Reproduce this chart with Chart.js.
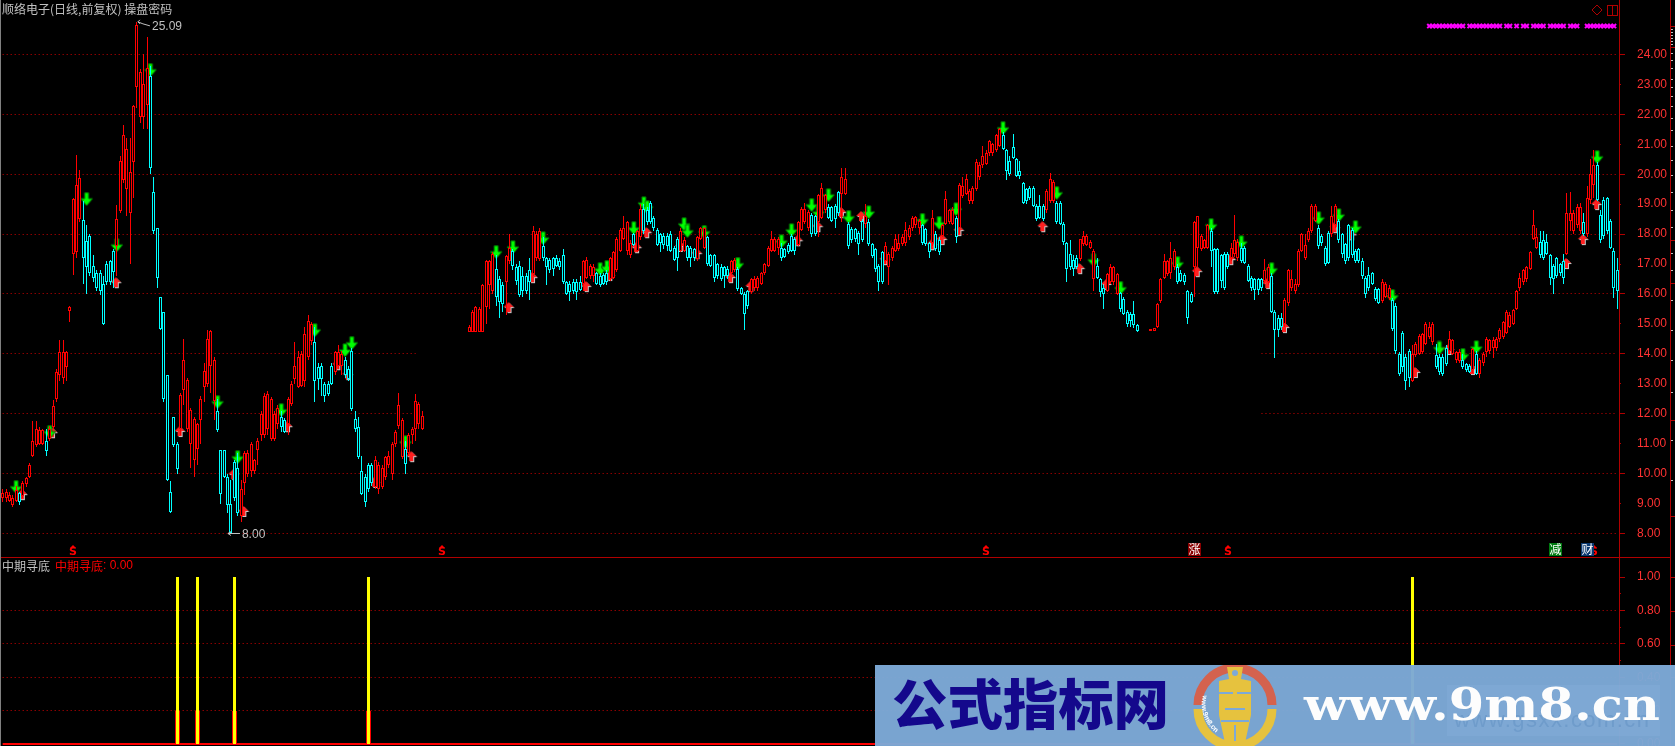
<!DOCTYPE html>
<html>
<head>
<meta charset="utf-8">
<title>中期寻底</title>
<style>
  html, body { margin: 0; padding: 0; background: #000; overflow: hidden; }
  body { width: 1675px; height: 746px; position: relative; }
  canvas { position: absolute; left: 0; display: block; }
  #leftEdge { position: absolute; left: 0; top: 0; width: 1px; height: 746px; background: #808080; }
  #outerAxis { position: absolute; left: 1670px; top: 0; width: 1px; height: 746px; background: #b00000; }
  #divider { position: absolute; left: 1px; top: 557px; width: 1670px; height: 1px; background: #b00000; }
  #banner { position: absolute; left: 875px; top: 665px; }
</style>
</head>
<body>
<canvas id="priceChart" width="1675" height="557" style="top:0"></canvas>
<canvas id="signalChart" width="1675" height="189" style="top:557px"></canvas>
<div id="leftEdge"></div>
<div id="outerAxis"></div>
<div id="divider"></div>
<svg id="banner" width="800" height="81" viewBox="0 0 800 81">
  <defs><path id="ringText" d="M 328 30 A 35 35 0 0 0 366 74"></path></defs>
  <rect width="800" height="81" fill="#7da9d7" fill-opacity="0.97"></rect>
  <rect x="572" y="20" width="213" height="51" fill="#8ab2dc" fill-opacity="0.35"></rect>
  <text x="579" y="62" font-family="Liberation Sans" font-size="22" fill="#6f9ccb" textLength="195">www.gsxx.com.cn</text>
  <text x="17" y="60" font-family="Noto Sans CJK SC" font-weight="900" font-size="54" fill="#14088c" textLength="277" lengthAdjust="spacingAndGlyphs">公式指标网</text>
  <path d="M 323 40 A 37 37 0 0 1 397 40" fill="none" stroke="#d4624e" stroke-width="9"></path>
  <path d="M 397 44 A 37 37 0 0 1 323 44" fill="none" stroke="#e6c23e" stroke-width="9"></path>
  <path d="M 352 2 L 368 2 L 366 14 L 376 16 L 376 50 L 370 78 L 350 78 L 344 50 L 344 16 L 354 14 Z" fill="#e6c23e"></path>
  <circle cx="360" cy="8" r="3" fill="#7da9d7"></circle>
  <path d="M 344 28 H 358 M 362 28 H 376 M 350 44 H 370 M 346 56 H 374 M 360 60 V 76" stroke="#7da9d7" stroke-width="2" fill="none"></path>
  <text font-family="Liberation Sans" font-size="7" font-weight="700" fill="#ffffff"><textPath href="#ringText">www.9m8.cn</textPath></text>
  <text x="429" y="55" font-family="DejaVu Serif" font-weight="700" font-size="45" fill="#fdfdfd" textLength="356" lengthAdjust="spacingAndGlyphs">www.9m8.cn</text>
</svg>

<script src="https://cdn.jsdelivr.net/npm/chart.js@4/dist/chart.umd.js"></script>
<script>
// every line holds 10 bars, first bar number in the comment
var bodyLow = [
  9.2,9.2,9.1,8.95,9.1,9.05,9.25,9.65,9.9,10.6, // 0
  10.95,11,11,10.75,11.15,11.55,12.5,13.3,13.2,13.55, // 10
  15.42,17.33,17.4,18.5,17.2,16.9,16.7,16.55,16.2,16.1, // 20
  15,16.4,16.4,16.75,17.6,18.78,19.8,19.5,18.72,20.42, // 30
  22.9,21.9,21.9,22.3,20.2,18.1,16.55,14.83,12.5,9.78, // 40
  8.72,10.94,10.17,11.5,12.78,11.5,11,10.44,10.83,11.78, // 50
  12.9,13,13.6,12.44,11.47,9.33,9.9,8.95,8,9.2, // 60
  8.7,8.6,9.7,10,10.1,10.1,10.8,11.28,11.28,11.5, // 70
  11.17,11.17,11.67,11.56,11.39,11.67,12.33,13.17,12.9,12.94, // 80
  13.1,13.9,14.44,13.1,13.17,13.17,12.6,12.67,13,13.4, // 90
  13.6,13.6,13.3,13.17,12.17,11.5,10.55,9.33,9.05,9.5, // 100
  9.7,9.55,9.5,9.55,9.9,10.28,10,11,11.6,10.55, // 110
  10.33,10.7,11.28,11.5,11.67,11.5,null,null,null,null, // 120
  null,null,null,null,null,null,null,null,null,14.74, // 130
  14.74,14.74,14.74,14.74,15.55,16.3,16.1,15.9,15.72,15.67, // 140
  16.4,17.1,16.95,16.45,15.95,16.1,16.1,16.4,16.67,17.2, // 150
  17.17,17.2,16.9,16.8,16.85,16.95,16.9,16.4,16,16.05, // 160
  16.1,16.05,16.15,16.35,16.55,16.6,16.6,16.35,16.3,16.35, // 170
  16.4,16.5,16.55,16.8,17.45,17.85,17.45,17.3,17.65,17.45, // 180
  17.9,18.1,18.4,18.4,18.2,17.65,17.7,17.65,17.6,17.45, // 190
  17.15,17.2,17.45,17.45,17.2,17.2,17.2,17.17,17.85,17.55, // 200
  17,16.95,16.55,16.6,16.5,16.6,16.6,16.7,16.8,16.17, // 210
  16,15.33,15.6,16.05,16.2,16.2,16.33,16.7,16.94,17.45, // 220
  17.45,17.55,17.2,17.25,17.4,17.45,17.45,17.65,18.15,18.4, // 230
  18.2,18,18,18.4,18.55,18.8,18.55,18.45,18.5,18.7, // 240
  19.33,19.35,17.6,17.8,17.85,17.67,17.8,18.33,17.67,17.28, // 250
  16.83,16.4,16.4,17.1,16.9,17.2,17.45,17.5,17.67,17.7, // 260
  17.9,18.2,18.3,18.2,17.7,17.67,17.4,17.7,17.5,17.4, // 270
  17.95,18.33,18.4,18.35,17.9,18.2,19.28,19.33,19.1,19.1, // 280
  19.5,19.9,20.3,20.35,20.7,20.7,20.8,20.95,20.85,20.1, // 290
  20,20.55,19.95,19.95,19.05,19.1,19.2,18.95,18.5,18.55, // 300
  18.5,18.8,19.1,19.1,18.4,18.33,17.72,16.83,16.9,16.85, // 310
  16.9,17.17,17.67,17.65,17.55,16.5,16.55,16.05,16,16.1, // 320
  16.4,16.4,16,15.5,15.33,15,15.1,14.95,14.78,null, // 330
  null,null,14.78,14.76,14.9,15.78,16.55,16.67,16.7,16.9, // 340
  16.4,16.45,16.4,15.2,15.73,16.9,17.55,17.5,17.55,17.55, // 350
  17.45,16.05,16.05,16.45,16.2,16.9,17.2,17.33,17.2,17.1, // 360
  17.05,16.45,16.2,16.15,16.15,16.2,16.45,16.4,15.4,14.8, // 370
  14.8,14.9,15,15.7,16.2,16.1,16.3,17.45,17.2,17.8, // 380
  18.1,18.45,17.6,17.7,17,17.05,18,18.3,17.8,17.33, // 390
  17.1,17.2,17.3,17.1,17.1,16.6,16,16.2,16.35,15.83, // 400
  15.7,15.78,15.9,15.85,14.83,14.1,13.33,13.55,13.1,13.2, // 410
  13.1,13.95,14,14.05,14.33,14.55,14.4,13.55,13.4,13.33, // 420
  13.67,14.1,14,13.78,13.75,13.55,13.45,13.4,13.45,13.33, // 430
  13.33,13.7,14.05,14.1,14.2,14.2,14.5,14.55,14.7,14.9, // 440
  15,15.5,16.2,16.4,16.5,16.85,17.85,17.55,17.3,17.2, // 450
  17.35,16.55,16.5,16.6,16.7,16.55,17.33,18.45,18.1,18.3, // 460
  18.1,18,18,19.15,19.65,19.15,17.8,17.95,18.1,17.55, // 470
  16.2,16.1 // 480
];
var bodyHigh = [
  9.35,9.4,9.3,9.2,9.45,9.35,9.7,9.85,10.3,11.1, // 0
  11.5,11.45,11.45,11.1,11.5,12.25,13.4,14.05,14.05,14.05, // 10
  15.58,19.17,19.63,19.87,18.48,17.78,17.95,16.95,16.7,16.7, // 20
  16.35,17,17.1,17.45,18.5,20.44,21.3,20.83,20.08,22.27, // 30
  25,23.4,23,23.55,23.27,19.4,18.2,15.9,15.39,13.28, // 40
  9.39,11.89,11,12.63,13.78,13.13,12.13,11.83,11.67,12.5, // 50
  13.44,14.5,14.78,13.78,12.08,10.78,10.78,9.9,9,10.4, // 60
  10.2,9.5,10.7,10.7,11,10.45,11.1,12,12.6,12.67, // 70
  12.5,12,12.2,11.9,11.78,12.5,13,13.6,13.9,14, // 80
  14.67,15.1,15,14.41,13.56,13.6,13,13,13.6,14.05, // 90
  14.05,14,13.78,13.5,14.1,11.83,11.55,10.1,9.9,10.3, // 100
  10.3,10.44,10.3,10.2,10.55,10.6,11,11.39,12.28,11.8, // 110
  10.83,11.3,11.5,12.44,12.33,11.94,null,null,null,null, // 120
  null,null,null,null,null,null,null,null,null,14.9, // 130
  15.4,15.55,15.5,16.3,17.1,17.1,17.35,16.83,16.5,16.3, // 140
  17.28,17.55,17.45,16.9,16.95,16.6,16.6,16.8,18.1,18, // 150
  18.1,17.6,17.2,17.15,17.2,17.2,17.1,17.3,16.4,16.35, // 160
  16.4,16.4,16.4,17.1,17.15,16.95,16.9,16.7,16.6,16.65, // 170
  16.7,17.2,17.4,17.85,18.15,18.2,18.4,17.7,18,18.1, // 180
  18.85,18.85,18.8,19.05,18.55,18.15,18,17.95,17.95,18, // 190
  17.55,17.85,18.1,17.8,17.6,17.55,17.5,17.9,18.2,18.2, // 200
  17.9,17.3,17.3,17,16.9,16.9,16.85,17.1,17.15,16.83, // 210
  16.2,16,16.1,16.5,16.5,16.55,16.7,17,17.55,17.83, // 220
  17.85,17.85,17.55,17.5,17.65,17.95,17.85,18.4,18.85,18.85, // 230
  18.75,18.65,18.6,19.3,19.55,19.3,18.9,18.9,18.95,19.4, // 240
  19.9,19.85,18.33,18.17,18.17,18.05,18.45,18.6,18.4,17.67, // 250
  17.5,16.95,17.4,17.6,17.33,17.55,17.85,17.7,17.9,18.15, // 260
  18.2,18.55,18.58,18.45,18.3,18.17,17.7,18.55,18,17.8, // 270
  18.3,19.17,18.8,18.8,18.55,19.65,19.6,19.83,19.45,19.55, // 280
  20.4,20.3,20.6,20.7,21.1,21,21.3,21.5,21.3,20.8, // 290
  20.45,20.9,20.5,20.1,19.7,19.5,19.55,19.55,18.95,18.95, // 300
  18.95,19.45,19.85,19.75,19.05,19.05,18.33,17.7,17.33,17.15, // 310
  17.2,17.83,17.95,17.95,17.72,17.45,16.95,16.5,16.2,16.67, // 320
  16.9,16.9,16.67,16.02,15.83,15.4,15.33,15.33,14.95,null, // 330
  null,null,14.83,14.85,15.67,16.5,17.1,17.1,17.2,17.45, // 340
  16.9,16.7,16.65,16.1,16,18.4,18.6,17.95,17.8,18.3, // 350
  18.1,17.5,17.5,17.3,17.35,17.35,17.55,17.8,17.75,17.55, // 360
  17.55,16.95,16.55,16.5,16.5,16.5,16.8,16.9,16.6,15.4, // 370
  15.2,15.2,15.8,16.8,16.5,16.35,17.45,18,17.65,18.1, // 380
  18.95,18.95,18.2,17.95,17.55,18.05,18.6,18.95,18.45,18, // 390
  17.67,18.3,18.15,17.45,17.5,17.1,16.55,16.65,16.7,16.17, // 400
  16.17,16.4,16.33,16.2,15.8,15.6,14,14.7,13.9,14.1, // 410
  14,14.33,14.6,14.65,15,14.9,15,13.95,13.9,13.9, // 420
  14.2,14.5,14.45,14.05,14.05,13.78,13.65,13.6,14.17,14, // 430
  13.8,14,14.5,14.45,14.45,14.5,14.8,15.05,15.4,15.3, // 440
  15.45,16.1,16.55,16.8,16.9,17.4,18.3,17.9,17.75,17.8, // 450
  17.75,17.3,16.95,17.2,17,17.1,18.7,18.7,18.7,18.9, // 460
  18.9,18.4,19.2,20,20.3,20.3,18.65,19.15,19.2,18.45, // 470
  17.45,16.8 // 480
];
var wickLow = [
  9.05,9.05,9.05,8.9,9.05,8.95,9.2,9.55,9.85,10.55, // 0
  10.9,10.95,10.95,10.6,11.1,11.5,12.4,13.1,13,13.1, // 10
  15.05,16.65,17.2,18.4,16.35,16,16.6,16.4,16.1,15.95, // 20
  14.95,16.3,16.3,16.2,16.6,18.7,19.7,18.6,17,19.2, // 30
  22.2,21.7,21.5,21.5,20,18,16.2,14.8,12.4,9.75, // 40
  8.7,10.9,10,11.3,12.3,11.4,10.2,9.9,10.3,11, // 50
  12.4,12.9,12.7,11.8,11.4,9,9.85,8.7,8,9.1, // 60
  8.6,8.4,9.3,9.9,9.9,10,10.3,11.1,11.2,11.3, // 70
  11.1,11.1,11.5,11.4,11.35,11.3,12.25,13,12.85,12.9, // 80
  12.9,13.8,14.3,12.4,12.8,12.6,12.4,12.6,12.95,13.3, // 90
  13.5,13.3,13.2,13.1,12.1,11.4,10.5,9.3,8.9,9.4, // 100
  9.6,9.5,9.33,9.5,9.8,10.2,9.8,10.9,11.5,10.5, // 110
  10,10.6,11,11.1,11.5,11.45,null,null,null,null, // 120
  null,null,null,null,null,null,null,null,null,14.74, // 130
  14.74,14.74,14.74,14.74,15,15.5,16,15.6,15.2,15.4, // 140
  15.3,17,16.8,16.3,15.9,15.9,16,15.8,16.6,17.1, // 150
  17.1,17.1,16.3,16.7,16.6,16.9,16.8,16.35,15.95,15.75, // 160
  16,15.8,16.1,16.1,16.5,16.5,16.4,16.3,16.25,16.3, // 170
  16.3,16.45,16.5,16.75,17.4,17.8,17.3,17.2,17.6,17.4, // 180
  17.8,18,18.3,18.35,18.1,17.6,17.4,17.5,17.45,17.4, // 190
  17.1,16.78,17.4,17.4,17.1,16.9,17.1,17.1,17.8,17.5, // 200
  16.95,16.9,16.4,16.5,16.45,16.2,16.5,16.65,16.75,16.1, // 210
  15.95,14.8,15.5,16,16.1,16.1,16.3,16.65,16.9,17.4, // 220
  17.4,17.3,17.1,17.2,17.35,17.4,17.3,17.6,18.1,18.35, // 230
  18.1,17.9,17.95,17.9,18.5,18.7,18.5,18.4,18.2,18.6, // 240
  18.4,19.3,17.5,17.7,17.75,17.3,17.75,18.2,17.6,17.2, // 250
  16.75,16.1,16.35,17,16.3,17.1,17.4,17.45,17.6,17.6, // 260
  17.8,18.1,18.2,18,17.65,17.6,17.2,17.6,17.45,17.3, // 270
  17.9,18.3,18.35,18.3,17.7,18,19.2,19.3,19,19, // 280
  19.45,19.8,20.2,20.3,20.6,20.6,20.75,20.9,20.8,19.8, // 290
  19.95,20.5,19.9,19.85,19,19,19.15,18.9,18.45,18.5, // 300
  18.45,18.7,19.05,19.05,18.35,18.3,17.65,16.4,16.8,16.6, // 310
  16.85,17.1,17.6,17.6,17.5,16.1,16.5,15.9,15.5,16.05, // 320
  16.35,16.3,15.95,15.4,15.3,14.9,14.9,14.85,14.74,null, // 330
  null,null,14.78,14.76,14.85,15.7,16.5,16.6,16.5,16.8, // 340
  16.35,16.4,16.3,15,15.7,15.9,16.9,17.45,17.5,17.5, // 350
  16.9,16,16,16.2,16.15,16.85,17.1,17.25,17.1,17.05, // 360
  17,16.4,16.1,15.8,15.95,16.1,16.35,16.3,15.35,13.85, // 370
  14.55,14.8,14.9,15.6,16.1,16,16.25,17.4,17.15,17.75, // 380
  18.05,18.4,17.5,17.6,16.95,17,17.9,18.2,17.7,17.2, // 390
  17,17.1,17.2,17.05,17.05,16.5,15.85,16.1,16.3,15.75, // 400
  15.65,15.7,15.85,15.8,14.75,14,13.25,13.4,12.8,12.9, // 410
  13.05,13.9,13.95,14,14.3,14.5,14.3,13.5,13.3,13.25, // 420
  13.6,14,13.95,13.7,13.7,13.5,13.4,13.35,13.35,13.3, // 430
  13.2,13.6,13.9,14,13.85,14.1,14.4,14.5,14.65,14.85, // 440
  14.95,15.45,16.1,16.3,16.4,16.8,17.8,17.5,17.2,17.15, // 450
  17.3,16.3,16,16.55,16.6,16.35,17.3,18.1,18,18.2, // 460
  18,17.95,17.9,19,19.2,19.1,17.7,17.85,18,17.5, // 470
  15.85,15.5 // 480
];
var wickHigh = [
  9.5,9.5,9.4,9.3,9.6,9.4,9.75,9.9,10.35,11.75, // 0
  11.75,11.55,11.5,11.5,11.6,12.45,13.5,14.45,14.45,14.1, // 10
  15.6,19.2,20.64,20.14,19.1,18.3,18,17.3,16.8,16.8, // 20
  16.6,17.1,17.15,17.5,18.98,20.6,21.64,21.2,21.2,22.3, // 30
  25.09,23.5,24,24.58,23.6,19.9,18.2,15.9,15.4,13.3, // 40
  9.75,11.9,11.05,12.7,14.5,13.2,12.2,11.9,11.7,12.6, // 50
  13.7,14.8,14.8,13.9,12.5,10.8,10.8,10,9.8,10.45, // 60
  10.7,9.8,10.75,10.8,11.05,10.5,11.2,12.1,12.7,12.75, // 70
  12.55,12.1,12.3,12.1,11.85,12.55,13.1,14.4,14.1,14.1, // 80
  14.9,15.3,15.05,14.9,13.7,13.7,13.05,13.1,13.7,14.1, // 90
  14.3,14.1,13.9,13.6,14.2,12.1,11.9,10.6,10,10.35, // 100
  10.35,10.6,10.4,10.3,10.6,10.75,11.05,11.45,12.7,11.85, // 110
  11.1,11.35,11.55,12.67,12.4,12.1,null,null,null,null, // 120
  null,null,null,null,null,null,null,null,null,14.95, // 130
  15.45,15.6,15.55,16.35,17.15,17.15,17.4,17.3,16.6,16.4, // 140
  17.3,18,17.5,17,17.1,16.9,16.7,17.2,18.27,18.1, // 150
  18.2,17.9,17.25,17.2,17.25,17.3,17.2,17.5,16.45,16.45, // 160
  16.5,16.5,16.6,17.15,17.25,17,17,16.75,16.7,16.7, // 170
  16.8,17.25,17.45,17.9,18.2,18.6,18.45,17.8,18.05,18.15, // 180
  19,19,18.9,19.1,18.6,18.2,18.05,18.05,18.05,18.1, // 190
  17.6,17.9,18.2,17.9,17.65,17.6,17.55,17.95,18.25,18.25, // 200
  17.95,17.35,17.35,17.05,17,16.95,16.95,17.15,17.2,16.9, // 210
  16.25,16.05,16.15,16.55,16.6,16.6,16.75,17.05,17.6,18.1, // 220
  17.9,17.9,17.7,17.55,17.7,18,17.9,18.45,18.9,19.05, // 230
  18.8,18.7,18.65,19.35,19.7,19.35,19,18.95,19,19.45, // 240
  20.2,20.2,18.4,18.25,18.2,18.1,18.5,19,18.5,17.7, // 250
  17.55,17,17.45,17.75,17.4,17.6,18,18,18,18.4, // 260
  18.3,18.6,18.6,18.5,18.35,18.2,17.75,18.8,18.1,17.9, // 270
  18.35,19.45,18.85,18.9,18.6,19.7,19.9,20,19.5,19.6, // 280
  20.5,20.4,20.95,20.8,21.15,21.05,21.35,21.55,21.4,20.85, // 290
  20.6,21.35,20.55,20.45,19.75,19.55,19.6,19.6,19,19.3, // 300
  19,19.5,20.05,19.8,19.1,19.1,18.4,17.75,17.8,17.3, // 310
  17.3,17.85,18.1,18,17.8,17.5,17.2,16.55,16.3,16.7, // 320
  17,16.95,16.7,16.05,15.9,15.45,15.4,15.75,15,null, // 330
  null,null,14.83,14.85,15.7,16.55,17.35,17.15,17.75,17.5, // 340
  17,16.8,16.7,16.15,16.05,18.45,18.62,18,17.85,18.35, // 350
  18.2,17.55,17.55,17.35,17.4,17.4,17.7,18.65,17.85,17.7, // 360
  17.6,17,16.6,16.55,16.55,16.55,17.17,17,16.7,15.45, // 370
  15.3,15.35,15.85,16.85,16.8,16.5,17.5,18.05,18,18.2, // 380
  19,19,18.3,18,17.6,18.1,18.95,19,18.5,18.05, // 390
  17.7,18.35,18.2,17.5,17.55,17.2,16.6,16.9,16.75,16.25, // 400
  16.2,16.5,16.4,16.3,15.85,15.7,14.05,14.75,14,14.15, // 410
  14.3,14.4,14.65,14.7,15.05,15.05,15.05,14.33,14,14, // 420
  14.3,14.75,14.5,14.1,14.15,14,13.7,13.65,14.2,14.1, // 430
  13.85,14.05,14.55,14.5,14.55,14.55,14.85,15.1,15.45,15.4, // 440
  15.5,16.15,16.7,16.85,16.95,17.45,18.8,18.2,18.1,18.1, // 450
  18,17.35,17,17.25,17.05,17.35,19.37,19.4,18.8,19, // 460
  19.05,18.7,19.6,20.5,20.8,20.4,18.8,19.25,19.25,18.5, // 470
  17.55,17.2 // 480
];
// r = red run, c = cyan run, - = bar not drawn
var phase = (
  "rrrrrcrrrr" + "rrrcrrrrrr" + "rrrrcccccc" + "ccccrrrrrr" + "rrrrcccccc" +
  "cccrrrrrrr" + "rrrrcccccc" + "crrrrrrrrr" + "rrrccrrrrr" + "rrrccccccr" +
  "rrcccccccc" + "crrrrrrrrr" + "crrrrr----" + "---------r" + "rrrrrrrccc" +
  "rrccccccrr" + "rccccccccc" + "cccrrrrccc" + "crrrrrrrcr" + "rccccccccc" +
  "ccrrcccrrr" + "cccccccrrc" + "cccrrrrrrr" + "rrcccccrrr" + "rccrrrcccc" +
  "rrcccccrcc" + "cccrrrrrrr" + "rrrrcccrcc" + "rrrrcrrrrr" + "rrrrrrrrcc" +
  "cccccccccc" + "crrrcccccc" + "crrrrrcccr" + "rrrcccccc-" + "--rrrrrrrr" +
  "cccccrrrrr" + "ccccccrrrc" + "ccccccrrcc" + "ccrrrrrrrr" + "rrccccrrcc" +
  "cccccccccc" + "crrrcccccc" + "rrrrrrrccc" + "crrrrcccrc" + "rrrrrrrrrr" +
  "rrrrrrrrcc" + "ccccccrrrr" + "rcrrrccccc" + "cc"
).split("");

var greenBars = [4,14,25,34,44,64,70,83,93,102,104,120,147,152,161,178,180,188,191,192,203,204,209,219,232,235,241,243,246,252,258,274,279,284,298,314,325,333,350,360,369,378,392,398,403,414,428,435,439,475];
var greenPrices = [9.55,11.39,19.17,17.63,23.48,12.39,10.55,12.12,14.79,14.12,14.36,11.05,17.4,17.56,17.86,16.83,16.9,18.2,19.03,18.9,18.33,18.1,18.07,17,17.76,18.13,18.97,18.73,19.3,18.57,18.73,18.47,18.37,18.83,21.54,19.37,17.13,16.2,17.03,18.3,17.73,16.83,18.53,18.63,18.23,15.93,14.2,13.96,14.22,20.57];
var redBars = [6,15,34,53,69,72,85,100,103,111,122,151,158,174,181,189,192,202,207,217,223,237,243,250,256,263,277,280,285,310,321,329,356,366,377,382,397,402,421,431,438,466,471,475];
var redPrices = [9.28,11.35,16.36,11.39,9.95,8.72,11.55,13.62,13.29,9.69,10.55,15.53,16.53,16.23,16.6,17.53,18.03,17.57,17.33,16.53,16.23,17.76,18.23,18.7,18.57,17.13,17.63,17.8,18.1,18.23,16.83,16.3,16.73,17.13,16.33,14.86,18.2,17.96,13.36,14.13,13.46,17,17.8,18.97];
var magentaBars = [425,426,427,428,429,430,431,432,433,434,435,437,438,439,440,441,442,443,444,445,446,448,449,451,453,454,456,457,458,459,461,462,463,464,465,467,468,469,472,473,474,475,476,477,478,479,480];
var magentaLevel = 24.95;

var priceLevels = [8,10,12,14,16,18,20,22,24];
var brokenLevels = {12: [126, 374], 14: [124, 374]};
var signalLevels = [0.2,0.4,0.6,0.8];
var signalBars = [52,58,69,109,420];
var signalTop = 1;
var signalFoot = 0.2;

var dollarBars = [21,131,293,365,474];
var tagBars = [355,462.5,472];
var tagNames = ["涨","减","财"];
var tagColors = ["#8b0000","#007a10","#0b3a72"];
var highBar = 40, highPrice = 25.09;
var lowBar = 68, lowPrice = 8.00;

var labels = bodyLow.map(function(v, i) { return i; });
var RED = "#ff0000", CYAN = "#00ffff", AXIS = "#b00000", TEXT = "#ff3232", GRAY = "#c0c0c0", DOT = "#d00000";

function barColors() {
  return phase.map(function(p) { return p === "c" ? CYAN : RED; });
}

function sparse(bars, values) {
  var out = labels.map(function() { return null; });
  bars.forEach(function(b, j) { out[b] = values[j]; });
  return out;
}

function pairs(lows, highs) {
  return lows.map(function(v, i) { return v === null ? null : [v, highs[i]]; });
}

// radius 0 on empty slots, so the first and last point add no layout padding
function radii(data, r) {
  return data.map(function(v) { return v === null ? 0 : r; });
}

function markerSet(data, style, r, extra) {
  return Object.assign({
    type: "line", data: data, order: 3, showLine: false, spanGaps: false,
    pointStyle: style, pointRadius: radii(data, r), pointHoverRadius: radii(data, r)
  }, extra || {});
}

function levelSet(levels, broken) {
  return levels.map(function(level) {
    var gap = broken && broken[level];
    return {
      type: "line", snapLine: true, order: 9,
      data: labels.map(function(i) { return gap && i >= gap[0] && i <= gap[1] ? null : level; }),
      borderColor: DOT, borderWidth: 1, borderDash: [1, 3], pointRadius: 0, spanGaps: false, fill: false
    };
  });
}

function makeDownArrow() {
  var c = document.createElement("canvas");
  c.width = 14; c.height = 15;
  var g = c.getContext("2d");
  g.beginPath();
  g.moveTo(5, 1); g.lineTo(9, 1); g.lineTo(9, 7); g.lineTo(13, 7); g.lineTo(7, 14); g.lineTo(1, 7); g.lineTo(5, 7);
  g.closePath();
  g.fillStyle = "#00ff00"; g.fill();
  g.strokeStyle = "#007000"; g.lineWidth = 1; g.stroke();
  return c;
}

function makeUpArrow() {
  var c = document.createElement("canvas");
  c.width = 14; c.height = 14;
  var g = c.getContext("2d");
  function shape(dx, dy) {
    g.beginPath();
    g.moveTo(6 + dx, 1 + dy); g.lineTo(11 + dx, 6 + dy); g.lineTo(8 + dx, 6 + dy); g.lineTo(8 + dx, 11 + dy);
    g.lineTo(4 + dx, 11 + dy); g.lineTo(4 + dx, 6 + dy); g.lineTo(1 + dx, 6 + dy);
    g.closePath();
    g.fill();
  }
  g.fillStyle = "#c8c8c8"; shape(1, 1);
  g.fillStyle = "#ff2020"; shape(0, 0);
  return c;
}

// pixel-align marks, the source chart is not antialiased
var snapMarks = {
  id: "snapMarks",
  beforeDatasetsDraw: function(chart) {
    chart.data.datasets.forEach(function(ds, k) {
      var meta = chart.getDatasetMeta(k);
      if (meta.type === "bar") {
        meta.data.forEach(function(el) {
          el.x = Math.floor(el.x) + 0.5;
          el.y = Math.round(el.y);
          el.base = Math.round(el.base);
        });
      } else if (ds.snapLine) {
        meta.data.forEach(function(el) { el.y = Math.floor(el.y) + 0.5; });
      }
    });
  }
};

function axisTicks(chart, isLong) {
  var s = chart.scales.y, c = chart.ctx, right = s.left;
  c.fillStyle = AXIS;
  s.ticks.forEach(function(t) {
    var y = Math.floor(s.getPixelForValue(t.value));
    c.fillRect(right, y, isLong(t.value) ? 6 : 2, 1);
  });
}

function outerTicks(c, list, color, len) {
  c.fillStyle = color;
  list.forEach(function(y) { c.fillRect(1671, y, len, 1); });
}

var priceDecor = {
  id: "priceDecor",
  afterDraw: function(chart) {
    var c = chart.ctx, x = chart.scales.x, y = chart.scales.y;
    axisTicks(chart, function(v) { return Math.round(v) % 2 === 0; });
    outerTicks(c, [26,47,240,283,420,516], AXIS, 4);
    outerTicks(c, [29,32,35,38,41,44,53,60,68,79,87,96,106,118,130,146,160,175,192,210,227,253,270,300,330,360,392,440,480], GRAY, 2);

    c.textBaseline = "middle";
    c.textAlign = "left";
    c.fillStyle = GRAY;
    c.font = '12px "Noto Sans CJK SC"';
    c.fillText("顺络电子(日线,前复权) 操盘密码", 2, 9);

    // high and low notes
    c.strokeStyle = GRAY;
    c.lineWidth = 1;
    var hx = x.getPixelForValue(highBar), hy = y.getPixelForValue(highPrice);
    c.beginPath();
    c.moveTo(hx + 1, hy); c.lineTo(hx + 6, hy + 2); c.lineTo(hx + 13, hy + 4);
    c.moveTo(hx + 1, hy); c.lineTo(hx + 3, hy - 2);
    c.moveTo(hx + 1, hy); c.lineTo(hx + 3, hy + 2);
    c.stroke();
    var lx = x.getPixelForValue(lowBar) - 3, ly = Math.floor(y.getPixelForValue(lowPrice)) + 0.5;
    c.beginPath();
    c.moveTo(lx, ly); c.lineTo(lx + 12, ly);
    c.moveTo(lx, ly); c.lineTo(lx + 3, ly - 2);
    c.moveTo(lx, ly); c.lineTo(lx + 3, ly + 2);
    c.stroke();
    c.font = '12px "Liberation Sans"';
    c.fillText(highPrice.toFixed(2), hx + 15, hy + 5);
    c.fillText(lowPrice.toFixed(2), lx + 14, ly + 1);

    // bottom row marks
    dollarBars.forEach(function(b) {
      var px = Math.round(x.getPixelForValue(b));
      c.fillStyle = RED;
      c.beginPath();
      c.moveTo(px, 545); c.lineTo(px + 3, 548); c.lineTo(px - 3, 548);
      c.closePath();
      c.fill();
      c.font = 'bold 11px "DejaVu Sans"';
      c.textAlign = "center";
      c.fillText("S", px, 552.5);
    });
    tagBars.forEach(function(b, j) {
      var px = Math.round(x.getPixelForValue(b));
      c.fillStyle = tagColors[j];
      c.fillRect(px - 6, 543, 13, 13);
      c.fillStyle = "#ffffff";
      c.font = '12px "Noto Sans CJK SC"';
      c.textAlign = "center";
      c.fillText(tagNames[j], px + 0.5, 549.5);
    });

    // top right buttons
    c.strokeStyle = AXIS;
    c.beginPath();
    c.moveTo(1597, 5); c.lineTo(1602, 10); c.lineTo(1597, 15); c.lineTo(1592, 10);
    c.closePath();
    c.stroke();
    c.strokeRect(1607.5, 5.5, 10, 10);
    c.beginPath();
    c.moveTo(1612.5, 5); c.lineTo(1612.5, 15);
    c.stroke();
  }
};

var signalDecor = {
  id: "signalDecor",
  afterDraw: function(chart) {
    var c = chart.ctx;
    axisTicks(chart, function(v) { return Math.round(v * 10) % 2 === 0; });
    outerTicks(c, [20,54,88,120], AXIS, 4);
    c.textBaseline = "middle";
    c.textAlign = "left";
    c.font = '12px "Noto Sans CJK SC"';
    c.fillStyle = GRAY;
    c.fillText("中期寻底", 2, 9);
    c.fillStyle = RED;
    c.fillText("中期寻底", 55, 9);
    c.font = '12px "Liberation Sans"';
    c.fillText(": 0.00", 103, 9);
  }
};

function rightAxis(min, max, step, top, fmt) {
  return {
    position: "right",
    min: min, max: max,
    afterBuildTicks: function(s) {
      s.ticks = s.ticks.filter(function(t) { return t.value <= top + 0.001; });
    },
    afterFit: function(s) {
      s.width = 56;
      s.paddingTop = 0;
      s.paddingBottom = 0;
    },
    border: { color: AXIS, width: 1 },
    grid: { display: false, drawTicks: false },
    ticks: {
      stepSize: step, includeBounds: false, autoSkip: false, maxRotation: 0,
      color: TEXT, padding: 18, font: { family: "Liberation Sans", size: 12 },
      callback: fmt
    }
  };
}

var commonOptions = {
  responsive: false,
  animation: false,
  events: [],
  layout: { padding: { left: 1, right: 0, top: 0, bottom: 0 } },
  plugins: { legend: { display: false }, tooltip: { enabled: false }, title: { display: false } }
};

var colors = barColors();

new Chart("priceChart", {
  type: "bar",
  data: {
    labels: labels,
    datasets: [
      { data: pairs(bodyLow, bodyHigh), order: 1, grouped: false, barThickness: 3, backgroundColor: "#000000", borderColor: colors, borderWidth: 1, borderSkipped: false, inflateAmount: 0 },
      { data: pairs(wickLow, wickHigh), order: 2, grouped: false, barThickness: 1, backgroundColor: colors, borderWidth: 0, inflateAmount: 0 },
      markerSet(sparse(greenBars, greenPrices), makeDownArrow(), 3),
      markerSet(sparse(redBars, redPrices), makeUpArrow(), 3),
      markerSet(sparse(magentaBars, magentaBars.map(function() { return magentaLevel; })), "crossRot", 3, { order: 0, pointBorderColor: "#ff00ff", pointBorderWidth: 2 })
    ].concat(levelSet(priceLevels, brokenLevels))
  },
  options: Object.assign({}, commonOptions, {
    scales: {
      x: { display: false, offset: true, grid: { display: false } },
      y: rightAxis(7.215, 25.82, 1, 24, function(v) { return v.toFixed(2); })
    }
  }),
  plugins: [snapMarks, priceDecor]
});

new Chart("signalChart", {
  type: "bar",
  data: {
    labels: labels,
    datasets: [
      { data: sparse(signalBars, signalBars.map(function() { return [0, signalTop]; })), order: 1, grouped: false, barThickness: 3, backgroundColor: "#ffff00", borderWidth: 0, inflateAmount: 0 },
      { data: sparse(signalBars, signalBars.map(function() { return [0, signalFoot]; })), order: 2, grouped: false, barThickness: 5, backgroundColor: RED, borderWidth: 0, inflateAmount: 0 },
      { type: "line", snapLine: false, data: labels.map(function() { return 0; }), order: 3, borderColor: RED, borderWidth: 2, pointRadius: 0 }
    ].concat(levelSet(signalLevels))
  },
  options: Object.assign({}, commonOptions, {
    scales: {
      x: { display: false, offset: true, grid: { display: false } },
      y: rightAxis(-0.012, 1.1198, 0.1, 1, function(v) {
        return Math.round(v * 10) % 2 === 0 ? v.toFixed(2) : "";
      })
    }
  }),
  plugins: [snapMarks, signalDecor]
});
</script>
</body>
</html>
